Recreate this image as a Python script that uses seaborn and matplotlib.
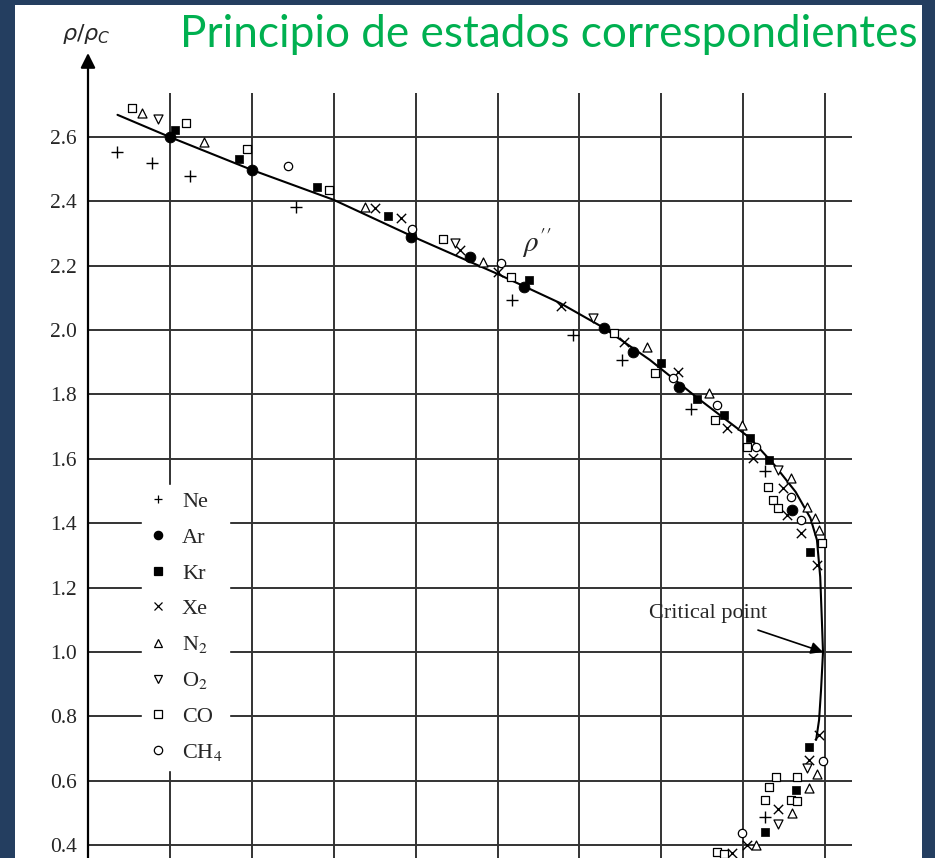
import matplotlib
matplotlib.use("Agg")
import matplotlib.pyplot as plt
from matplotlib.patches import Rectangle
from matplotlib.lines import Line2D
import seaborn as sns

sns.set_style("white")
plt.rcParams["mathtext.fontset"] = "stix"
SERIF = "Liberation Serif"

# ---------------- data (T/Tc, rho/rho_c) ----------------
ne_T   = [0.568, 0.589, 0.612, 0.677, 0.809, 0.846, 0.876, 0.918, 0.963, 0.963]
ne_rho = [2.553, 2.519, 2.478, 2.382, 2.093, 1.984, 1.907, 1.755, 1.562, 0.488]

ar_T   = [0.600, 0.650, 0.747, 0.783, 0.816, 0.865, 0.883, 0.911, 0.980]
ar_rho = [2.599, 2.497, 2.289, 2.227, 2.134, 2.006, 1.932, 1.823, 1.441]

kr_T   = [0.603, 0.642, 0.690, 0.733, 0.819, 0.900, 0.922, 0.938, 0.954, 0.966, 0.991, 0.990, 0.982, 0.963]
kr_rho = [2.621, 2.531, 2.444, 2.354, 2.155, 1.898, 1.786, 1.736, 1.665, 1.596, 1.311, 0.705, 0.571, 0.441]

xe_T   = [0.725, 0.741, 0.777, 0.800, 0.839, 0.877, 0.910, 0.940, 0.956, 0.974, 0.977, 0.985, 0.995,
          0.996, 0.990, 0.971, 0.952, 0.943]
xe_rho = [2.379, 2.348, 2.248, 2.180, 2.075, 1.963, 1.870, 1.696, 1.602, 1.509, 1.425, 1.370, 1.270,
          0.742, 0.665, 0.512, 0.401, 0.376]

n2_T   = [0.583, 0.621, 0.719, 0.791, 0.891, 0.929, 0.949, 0.979, 0.989, 0.994, 0.996, 0.995, 0.990, 0.980, 0.958]
n2_rho = [2.674, 2.584, 2.382, 2.211, 1.947, 1.804, 1.705, 1.540, 1.450, 1.416, 1.379, 0.621, 0.578, 0.500, 0.401]

o2_T   = [0.593, 0.774, 0.858, 0.971, 0.989, 0.971]
o2_rho = [2.655, 2.270, 2.037, 1.565, 0.640, 0.466]

co_T   = [0.577, 0.610, 0.647, 0.697, 0.767, 0.808, 0.871, 0.896, 0.933, 0.952, 0.965, 0.968, 0.971, 0.998,
          0.983, 0.970, 0.966, 0.979, 0.983, 0.963, 0.934, 0.938]
co_rho = [2.689, 2.643, 2.562, 2.435, 2.283, 2.165, 1.991, 1.866, 1.721, 1.637, 1.512, 1.472, 1.447, 1.339,
          0.612, 0.612, 0.581, 0.540, 0.537, 0.540, 0.379, 0.373]

ch4_T   = [0.672, 0.748, 0.802, 0.907, 0.934, 0.958, 0.979, 0.985, 0.999, 0.949]
ch4_rho = [2.509, 2.314, 2.208, 1.851, 1.767, 1.637, 1.481, 1.410, 0.661, 0.438]

curve_T   = [0.568, 0.600, 0.650, 0.700, 0.750, 0.800, 0.838, 0.864, 0.893, 0.922, 0.954, 0.969,
             0.982, 0.991, 0.995, 0.997, 0.998, 0.9987, 0.9975, 0.9963, 0.9945]
curve_rho = [2.668, 2.599, 2.497, 2.404, 2.286, 2.174, 2.084, 2.009, 1.907, 1.789, 1.665, 1.581,
             1.497, 1.416, 1.348, 1.233, 1.099, 1.000, 0.882, 0.789, 0.727]

crit_T, crit_rho = 0.9987, 1.0

yticks = [0.4, 0.6, 0.8, 1.0, 1.2, 1.4, 1.6, 1.8, 2.0, 2.2, 2.4, 2.6]
ytick_labels = ["0.4", "0.6", "0.8", "1.0", "1.2", "1.4", "1.6", "1.8", "2.0", "2.2", "2.4", "2.6"]
xgrid = [0.60, 0.65, 0.70, 0.75, 0.80, 0.85, 0.90, 0.95, 1.00]

gas_labels = ["Ne", "Ar", "Kr", "Xe", "N$_2$", "O$_2$", "CO", "CH$_4$"]

# ---------------- figure ----------------
W, H = 935, 858
fig = plt.figure(figsize=(W / 100, H / 100), dpi=100)
fig.patch.set_facecolor("#243e60")
fig.add_artist(Rectangle((15 / W, 0), (922 - 15) / W, (H - 5) / H, transform=fig.transFigure,
                         facecolor="white", edgecolor="none", zorder=-5))

ax_top_px = 53
ax = fig.add_axes([88 / W, 0, (852 - 88) / W, (H - ax_top_px) / H])
ax.set_facecolor("none")
for s in ax.spines.values():
    s.set_visible(False)
ax.set_xlim(0.55, 1.0164)
ax.set_ylim(0.3603, 2.860)

gcol = "#333333"
ax.hlines(yticks, 0.55, 1.0164, colors=gcol, lw=1.4, zorder=1)
ax.vlines(xgrid, 0.3603, 2.736, colors=gcol, lw=1.4, zorder=1)

ax.annotate("", xy=(0.55, 2.860), xytext=(0.55, 0.3603),
            arrowprops=dict(arrowstyle="-|>", color="black", lw=1.6, mutation_scale=22,
                            shrinkA=0, shrinkB=0), annotation_clip=False, zorder=4)

ax.set_xticks([])
ax.set_yticks(yticks)
ax.set_yticklabels(ytick_labels, family=SERIF, fontsize=15.5)
ax.tick_params(axis="y", length=0, pad=8)
ax.set_xlabel("")
ax.set_ylabel("")

# coexistence curve
sns.lineplot(x=curve_T, y=curve_rho, sort=False, estimator=None, color="black", lw=1.5, ax=ax, zorder=2)

open_kw = dict(color="white", edgecolor="black", linewidth=0.9)
series = [
    (ne_T, ne_rho, "+", 75, dict(color="black", linewidth=1.0)),
    (ar_T, ar_rho, "o", 60, dict(color="black", edgecolor="black")),
    (kr_T, kr_rho, "s", 40, dict(color="black", edgecolor="black")),
    (xe_T, xe_rho, "x", 45, dict(color="black", linewidth=1.0)),
    (n2_T, n2_rho, "^", 42, open_kw),
    (o2_T, o2_rho, "v", 42, open_kw),
    (co_T, co_rho, "s", 32, open_kw),
    (ch4_T, ch4_rho, "o", 36, open_kw),
]
for xs, ys, m, s, kw in series:
    sns.scatterplot(x=xs, y=ys, marker=m, s=s, ax=ax, legend=False, zorder=3, **kw)

# legend
handles = []
leg_specs = [("+", "black", "black"), ("o", "black", "black"), ("s", "black", "black"),
             ("x", "black", "black"), ("^", "white", "black"), ("v", "white", "black"),
             ("s", "white", "black"), ("o", "white", "black")]
for (m, fc, ec), lab in zip(leg_specs, gas_labels):
    handles.append(Line2D([], [], ls="none", marker=m, markersize=6, markerfacecolor=fc,
                          markeredgecolor=ec, markeredgewidth=0.9, color="black", label=lab))
leg = ax.legend(handles=handles, loc="upper left",
                bbox_to_anchor=((142 - 88) / 764, (H - 485) / (H - ax_top_px)),
                frameon=True, fancybox=False, framealpha=1, facecolor="white", edgecolor="white",
                prop={"family": SERIF, "size": 16}, handlelength=0.8, handletextpad=0.7,
                labelspacing=0.68, borderpad=0.3, borderaxespad=0)
leg.set_zorder(5)

# annotations
ax.text(0.9285, 1.121, "Critical point", family=SERIF, fontsize=16, ha="center", va="center", zorder=6)
ax.annotate("", xy=(crit_T, crit_rho), xytext=(0.959, 1.068),
            arrowprops=dict(arrowstyle="-|>", color="black", lw=1.2, mutation_scale=18,
                            shrinkA=0, shrinkB=0), zorder=6)
ax.text(0.8241, 2.270, r"$\rho^{\prime\prime}$", fontsize=21, ha="center", va="center", zorder=6)

# y label and title
fig.text(86 / W, 1 - 34 / H, r"$\rho/\rho_C$", fontsize=16, ha="center", va="center",
         math_fontfamily="dejavusans")
title = fig.text(918 / W, 1 - 47 / H, "Principio de estados correspondientes", color="#00b050",
                 family="Lato", fontsize=30, ha="right", va="baseline")
fig.canvas.draw()
bb = title.get_window_extent(renderer=fig.canvas.get_renderer())
title.set_fontsize(30 * (918 - 181) / bb.width)

fig.savefig("out.png", dpi=100, facecolor=fig.get_facecolor())
